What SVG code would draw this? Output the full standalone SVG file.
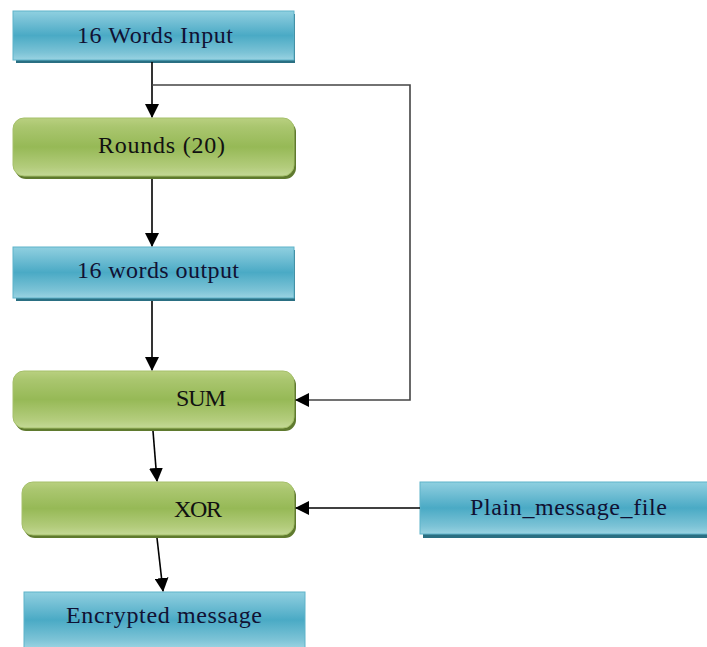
<svg xmlns="http://www.w3.org/2000/svg" width="707" height="647" viewBox="0 0 707 647">
<defs>
<linearGradient id="gb" x1="0" y1="0" x2="0" y2="1">
<stop offset="0" stop-color="#8fd0e0"/>
<stop offset="0.15" stop-color="#7cc4d8"/>
<stop offset="0.5" stop-color="#4aaac5"/>
<stop offset="0.85" stop-color="#7cc3d6"/>
<stop offset="1" stop-color="#9ad3e2"/>
</linearGradient>
<linearGradient id="gg" x1="0" y1="0" x2="0" y2="1">
<stop offset="0" stop-color="#b9d080"/>
<stop offset="0.15" stop-color="#aac66f"/>
<stop offset="0.5" stop-color="#96b956"/>
<stop offset="0.85" stop-color="#b3cc7c"/>
<stop offset="1" stop-color="#c4d996"/>
</linearGradient>
<marker id="ah2" markerWidth="14" markerHeight="14" refX="13" refY="7" orient="auto" markerUnits="userSpaceOnUse" viewBox="0 0 14 14">
<path d="M0,0 L14,7 L0,14 z" fill="#000"/>
</marker>
</defs>
<style>
.bs{fill:#2a6f82}
.gs{fill:#5f7a2e}
.bb{fill:url(#gb);stroke:#5fb3c9;stroke-width:1}
.gb{fill:url(#gg);stroke:#a5c06a;stroke-width:1}
.t{font-family:"Liberation Serif","DejaVu Serif",serif;font-size:24px;fill:#111}
.tb{fill:#111133}
.c{fill:none;stroke:#000;stroke-width:1.6}
.c2{fill:none;stroke:#444;stroke-width:1.6}
</style>
<rect width="707" height="647" fill="#fff"/>
<g id="n1">
<rect class="bs" x="16" y="14" width="279" height="49"/>
<rect class="bb" x="13" y="11" width="281" height="49"/>
<text class="t tb" x="77" y="43" textLength="156">16 Words Input</text>
</g>
<g id="n2">
<rect class="gs" x="15" y="121" width="281" height="58" rx="11"/>
<rect class="gb" x="13" y="118" width="281" height="58" rx="11"/>
<text class="t" x="98" y="153" textLength="127">Rounds (20)</text>
</g>
<g id="n3">
<rect class="bs" x="16" y="250" width="279" height="51"/>
<rect class="bb" x="13" y="247" width="281" height="51"/>
<text class="t tb" x="77" y="278" textLength="162">16 words output</text>
</g>
<g id="n4">
<rect class="gs" x="15" y="374" width="281" height="57" rx="11"/>
<rect class="gb" x="13" y="371" width="281" height="57" rx="11"/>
<text class="t" x="176" y="406" textLength="50">SUM</text>
</g>
<g id="n5">
<rect class="gs" x="24" y="485" width="272" height="53" rx="11"/>
<rect class="gb" x="22" y="482" width="272" height="53" rx="11"/>
<text class="t" x="174" y="517" textLength="48">XOR</text>
</g>
<g id="n6">
<rect class="bs" x="423" y="485" width="290" height="53"/>
<rect class="bb" x="420" y="482" width="290" height="52"/>
<text class="t tb" x="470" y="515" textLength="197">Plain_message_file</text>
</g>
<g id="n7">
<rect class="bb" x="24" y="592" width="281" height="56"/>
<text class="t tb" x="66" y="623" textLength="196">Encrypted message</text>
</g>
<g id="connectors">
<path class="c" d="M152,62 L152,117" marker-end="url(#ah2)"/>
<path class="c2" d="M152,85 L410,85 L410,400 L296,400" marker-end="url(#ah2)"/>
<path class="c" d="M152,179 L152,246" marker-end="url(#ah2)"/>
<path class="c" d="M152,301 L152,370" marker-end="url(#ah2)"/>
<path class="c" d="M153,431 L157,481" marker-end="url(#ah2)"/>
<path class="c" d="M157,538 L163,591" marker-end="url(#ah2)"/>
<path class="c" d="M420,508 L296,508" marker-end="url(#ah2)"/>
</g>
</svg>
